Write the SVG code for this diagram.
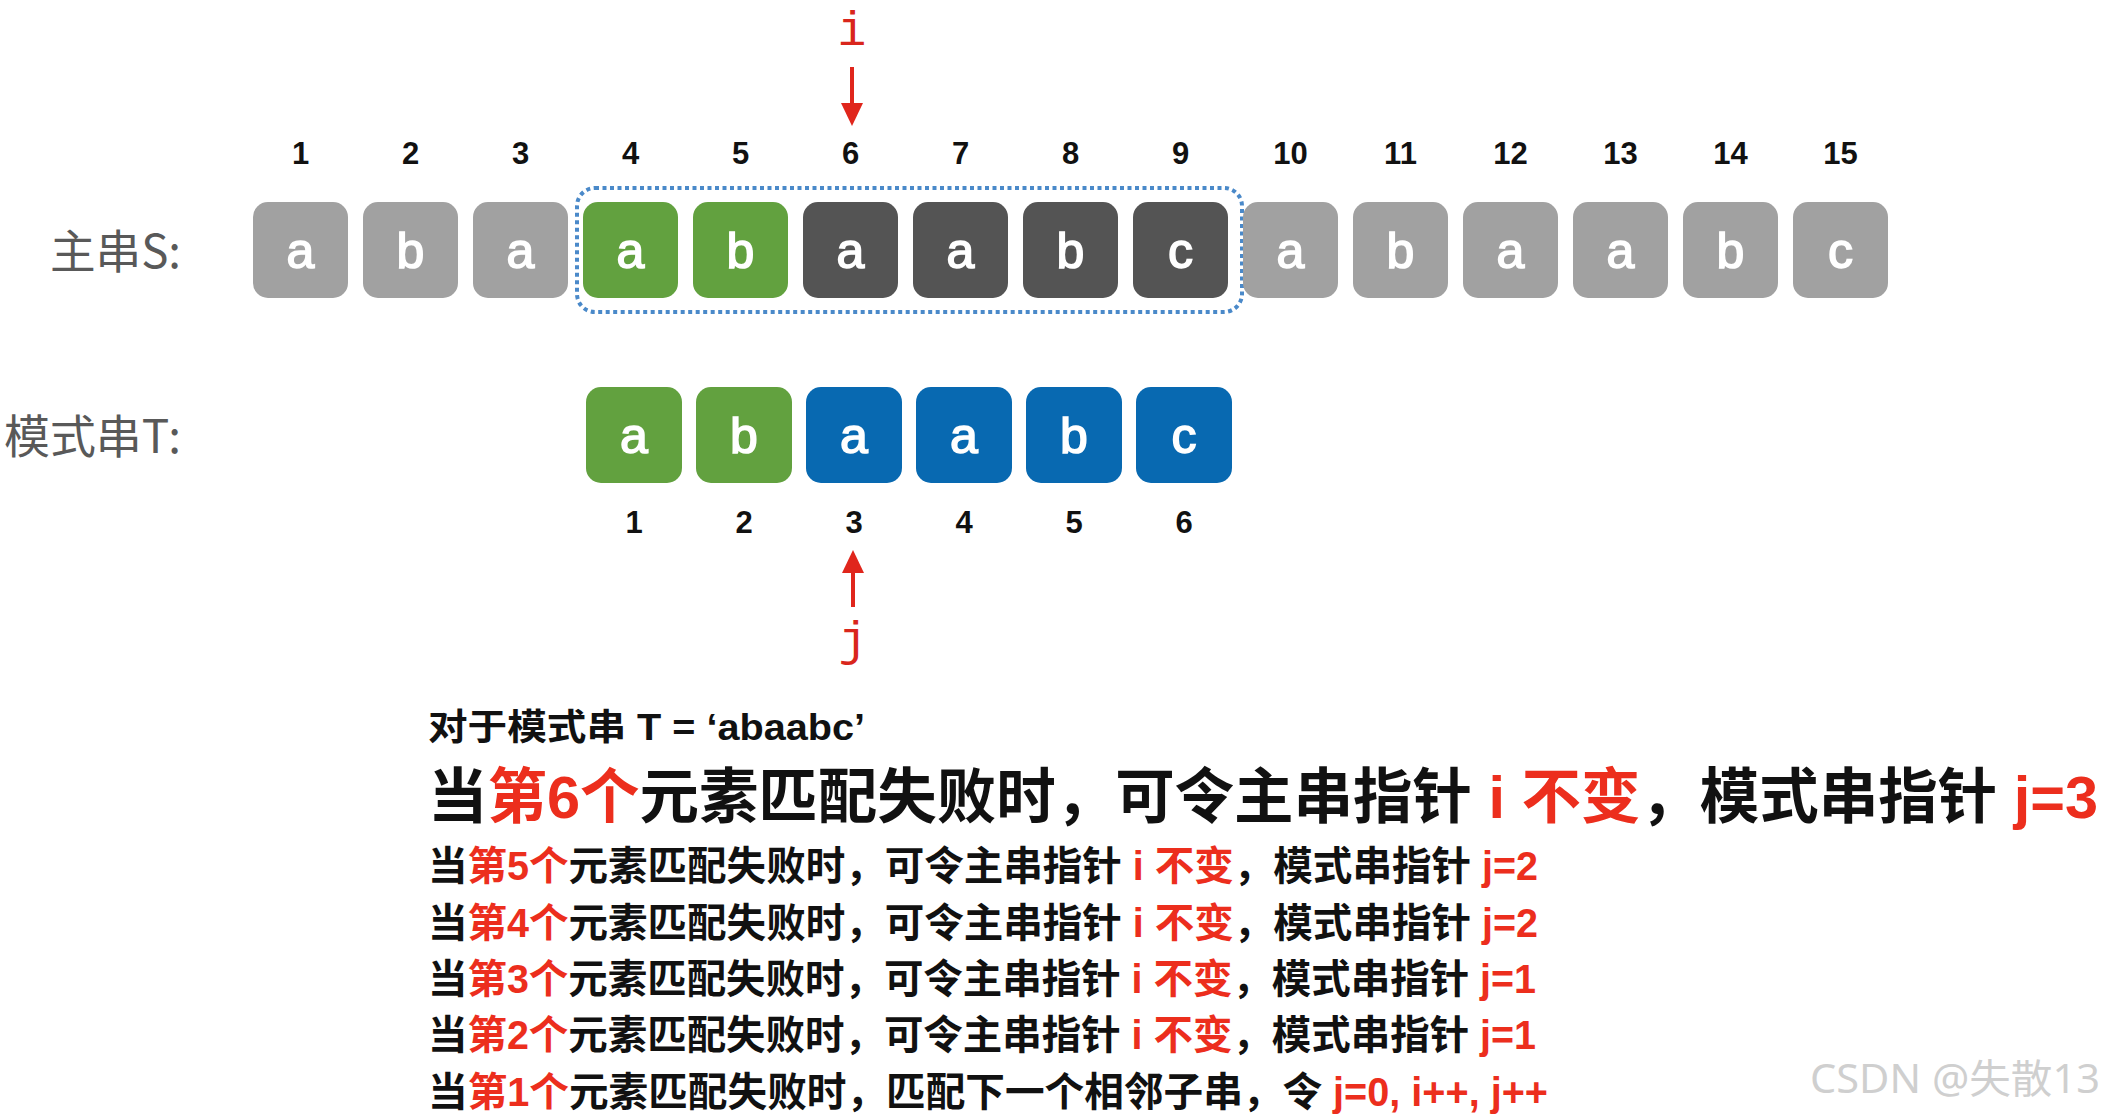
<svg xmlns="http://www.w3.org/2000/svg" width="2103" height="1116" viewBox="0 0 2103 1116">
<style>
.gy{fill:#a1a1a1}
.dk{fill:#545454}
.gr{fill:#62a13f}
.bl{fill:#0869b1}
.ch{font-family:"Liberation Sans",Arial,sans-serif;font-size:50px;fill:#fff;stroke:#fff;stroke-width:1.6;text-anchor:middle}
.num{font-family:"Liberation Sans",Arial,sans-serif;font-weight:bold;font-size:31px;fill:#111;text-anchor:middle}
.lbl{font-family:"Noto Sans CJK SC",sans-serif;font-size:46px;fill:#595959;text-anchor:end}
.ptr{font-family:"Liberation Mono","Courier New",monospace;font-size:48px;fill:#d9261c;text-anchor:middle}
.t{font-family:"Liberation Sans","Noto Sans CJK SC",sans-serif;font-weight:bold;fill:#111}
.r{fill:#ec2e1d}
.wm{font-family:"Noto Sans","Noto Sans CJK SC",sans-serif;font-size:40px;fill:#cfcfcf}
</style>
<defs>
<marker id="ah" viewBox="0 0 23 22" refX="0" refY="11" markerWidth="23" markerHeight="22" markerUnits="userSpaceOnUse" orient="auto">
<path d="M0,0 L23,11 L0,22 z" fill="#e0261c"/>
</marker>
</defs>

<text class="lbl" x="181" y="268" textLength="131" lengthAdjust="spacingAndGlyphs">主串S:</text>
<text class="lbl" x="181" y="453" textLength="177" lengthAdjust="spacingAndGlyphs">模式串T:</text>

<g id="window"><rect x="577" y="188" width="665" height="124" rx="18" fill="none" stroke="#4a89c9" stroke-width="4" stroke-dasharray="4 3.5"/></g>

<g id="S">
<g id="s1"><rect class="gy" x="253" y="202" width="95" height="96" rx="15"/><text class="ch" x="300.5" y="268">a</text><text class="num" x="300.5" y="164">1</text></g>
<g id="s2"><rect class="gy" x="363" y="202" width="95" height="96" rx="15"/><text class="ch" x="410.5" y="268">b</text><text class="num" x="410.5" y="164">2</text></g>
<g id="s3"><rect class="gy" x="473" y="202" width="95" height="96" rx="15"/><text class="ch" x="520.5" y="268">a</text><text class="num" x="520.5" y="164">3</text></g>
<g id="s4"><rect class="gr" x="583" y="202" width="95" height="96" rx="15"/><text class="ch" x="630.5" y="268">a</text><text class="num" x="630.5" y="164">4</text></g>
<g id="s5"><rect class="gr" x="693" y="202" width="95" height="96" rx="15"/><text class="ch" x="740.5" y="268">b</text><text class="num" x="740.5" y="164">5</text></g>
<g id="s6"><rect class="dk" x="803" y="202" width="95" height="96" rx="15"/><text class="ch" x="850.5" y="268">a</text><text class="num" x="850.5" y="164">6</text></g>
<g id="s7"><rect class="dk" x="913" y="202" width="95" height="96" rx="15"/><text class="ch" x="960.5" y="268">a</text><text class="num" x="960.5" y="164">7</text></g>
<g id="s8"><rect class="dk" x="1023" y="202" width="95" height="96" rx="15"/><text class="ch" x="1070.5" y="268">b</text><text class="num" x="1070.5" y="164">8</text></g>
<g id="s9"><rect class="dk" x="1133" y="202" width="95" height="96" rx="15"/><text class="ch" x="1180.5" y="268">c</text><text class="num" x="1180.5" y="164">9</text></g>
<g id="s10"><rect class="gy" x="1243" y="202" width="95" height="96" rx="15"/><text class="ch" x="1290.5" y="268">a</text><text class="num" x="1290.5" y="164">10</text></g>
<g id="s11"><rect class="gy" x="1353" y="202" width="95" height="96" rx="15"/><text class="ch" x="1400.5" y="268">b</text><text class="num" x="1400.5" y="164">11</text></g>
<g id="s12"><rect class="gy" x="1463" y="202" width="95" height="96" rx="15"/><text class="ch" x="1510.5" y="268">a</text><text class="num" x="1510.5" y="164">12</text></g>
<g id="s13"><rect class="gy" x="1573" y="202" width="95" height="96" rx="15"/><text class="ch" x="1620.5" y="268">a</text><text class="num" x="1620.5" y="164">13</text></g>
<g id="s14"><rect class="gy" x="1683" y="202" width="95" height="96" rx="15"/><text class="ch" x="1730.5" y="268">b</text><text class="num" x="1730.5" y="164">14</text></g>
<g id="s15"><rect class="gy" x="1793" y="202" width="95" height="96" rx="15"/><text class="ch" x="1840.5" y="268">c</text><text class="num" x="1840.5" y="164">15</text></g>
</g>

<g id="T">
<g id="t1"><rect class="gr" x="586" y="387" width="96" height="96" rx="15"/><text class="ch" x="634" y="453">a</text><text class="num" x="634" y="533">1</text></g>
<g id="t2"><rect class="gr" x="696" y="387" width="96" height="96" rx="15"/><text class="ch" x="744" y="453">b</text><text class="num" x="744" y="533">2</text></g>
<g id="t3"><rect class="bl" x="806" y="387" width="96" height="96" rx="15"/><text class="ch" x="854" y="453">a</text><text class="num" x="854" y="533">3</text></g>
<g id="t4"><rect class="bl" x="916" y="387" width="96" height="96" rx="15"/><text class="ch" x="964" y="453">a</text><text class="num" x="964" y="533">4</text></g>
<g id="t5"><rect class="bl" x="1026" y="387" width="96" height="96" rx="15"/><text class="ch" x="1074" y="453">b</text><text class="num" x="1074" y="533">5</text></g>
<g id="t6"><rect class="bl" x="1136" y="387" width="96" height="96" rx="15"/><text class="ch" x="1184" y="453">c</text><text class="num" x="1184" y="533">6</text></g>
</g>

<g id="ptr-i"><text class="ptr" x="852" y="45">i</text></g>
<g id="ptr-j"><text class="ptr" x="853" y="655">j</text></g>

<g id="connectors">
<line x1="852" y1="67" x2="852" y2="103" stroke="#e0261c" stroke-width="4" marker-end="url(#ah)"/>
<line x1="853" y1="607" x2="853" y2="573" stroke="#e0261c" stroke-width="4" marker-end="url(#ah)"/>
</g>

<g id="notes">
<text class="t" x="428" y="740" font-size="36" textLength="437" lengthAdjust="spacingAndGlyphs">对于模式串 T = ‘abaabc’</text>
<text class="t" x="428" y="818" font-size="60" textLength="1670" lengthAdjust="spacingAndGlyphs">当<tspan class="r">第6个</tspan>元素匹配失败时，可令主串指针 <tspan class="r">i 不变</tspan>，模式串指针 <tspan class="r">j=3</tspan></text>
<text class="t" x="428" y="880" font-size="40" textLength="1110" lengthAdjust="spacingAndGlyphs">当<tspan class="r">第5个</tspan>元素匹配失败时，可令主串指针 <tspan class="r">i 不变</tspan>，模式串指针 <tspan class="r">j=2</tspan></text>
<text class="t" x="428" y="937" font-size="40" textLength="1110" lengthAdjust="spacingAndGlyphs">当<tspan class="r">第4个</tspan>元素匹配失败时，可令主串指针 <tspan class="r">i 不变</tspan>，模式串指针 <tspan class="r">j=2</tspan></text>
<text class="t" x="428" y="993" font-size="40" textLength="1108" lengthAdjust="spacingAndGlyphs">当<tspan class="r">第3个</tspan>元素匹配失败时，可令主串指针 <tspan class="r">i 不变</tspan>，模式串指针 <tspan class="r">j=1</tspan></text>
<text class="t" x="428" y="1049" font-size="40" textLength="1108" lengthAdjust="spacingAndGlyphs">当<tspan class="r">第2个</tspan>元素匹配失败时，可令主串指针 <tspan class="r">i 不变</tspan>，模式串指针 <tspan class="r">j=1</tspan></text>
<text class="t" x="428" y="1106" font-size="40" textLength="1120" lengthAdjust="spacingAndGlyphs">当<tspan class="r">第1个</tspan>元素匹配失败时，匹配下一个相邻子串，令 <tspan class="r">j=0, i++, j++</tspan></text>
</g>

<text class="wm" x="1810" y="1093" textLength="290" lengthAdjust="spacingAndGlyphs">CSDN @失散13</text>
</svg>
